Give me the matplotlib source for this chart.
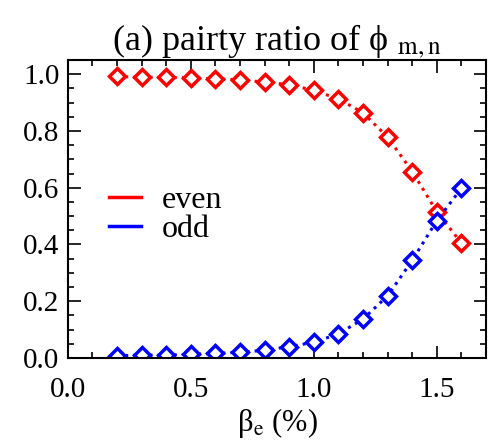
import matplotlib.pyplot as plt
from matplotlib.ticker import MultipleLocator

plt.rcParams['font.family'] = ['Liberation Serif', 'DejaVu Serif']
plt.rcParams['mathtext.fontset'] = 'stix'

beta = [0.2, 0.3, 0.4, 0.5, 0.6, 0.7, 0.8, 0.9, 1.0, 1.1, 1.2, 1.3, 1.4, 1.5, 1.6]
even = [0.992, 0.989, 0.989, 0.987, 0.984, 0.980, 0.972, 0.963, 0.943, 0.913,
        0.864, 0.778, 0.657, 0.515, 0.405]
odd = [0.008, 0.010, 0.010, 0.013, 0.016, 0.020, 0.027, 0.040, 0.055, 0.085,
       0.137, 0.219, 0.344, 0.484, 0.598]

fig = plt.figure(figsize=(4.99, 4.48), dpi=100)
ax = fig.add_axes([0.136, 0.201, 0.838, 0.665])

ax.plot(beta, even, color='red', ls=':', lw=2.2, marker='D', ms=8,
        mfc='white', mec='red', mew=2.5, label='even')
ax.plot(beta, odd, color='blue', ls=':', lw=2.2, marker='D', ms=8,
        mfc='white', mec='blue', mew=2.5, label='odd')

ax.set_xlim(0, 1.7)
ax.set_ylim(0, 1.05)
ax.xaxis.set_minor_locator(MultipleLocator(0.1))
ax.yaxis.set_major_locator(MultipleLocator(0.2))
ax.yaxis.set_minor_locator(MultipleLocator(0.05))
ax.set_xticks([0, 0.5, 1.0, 1.5])
ax.set_xticklabels(['0.0', '0.5', '1.0', '1.5'])
ax.tick_params(which='both', direction='in', top=True, right=True, labelsize=21, width=1.2)
ax.tick_params(which='major', length=9)
ax.tick_params(which='minor', length=4)
ax.tick_params(axis='x', pad=14)
ax.tick_params(axis='y', pad=6)
for s in ax.spines.values():
    s.set_linewidth(1.5)

ax.set_title('(a) pairty ratio of \u03d5 $_{\\rm m,n}$', fontsize=26, pad=6)
ax.set_xlabel('\u03b2$_{\\rm e}$ (%)', fontsize=22, labelpad=2)

leg = ax.legend(loc='center left', bbox_to_anchor=(0.068, 0.48), fontsize=23, frameon=False,
                handlelength=1.0, handletextpad=0.65, labelspacing=0.0,
                borderaxespad=0)
for h in leg.legend_handles:
    h.set_linestyle('-')
    h.set_marker('')
    h.set_linewidth(2.5)

fig.savefig('out.png', dpi=100)
